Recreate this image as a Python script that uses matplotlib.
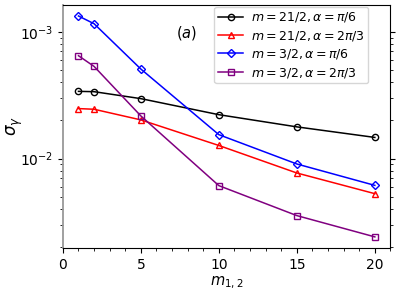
import matplotlib
matplotlib.use("Agg")
import matplotlib.pyplot as plt
from matplotlib.ticker import MultipleLocator, NullFormatter

# data (x = m_{1,2})
m_vals = [1, 2, 5, 10, 15, 20]
sig_21_pi6 = [3.39e-3, 3.37e-3, 2.97e-3, 2.22e-3, 1.78e-3, 1.47e-3]
sig_21_2pi3 = [2.48e-3, 2.45e-3, 2.02e-3, 1.27e-3, 7.71e-4, 5.30e-4]
sig_3_pi6 = [1.33e-2, 1.156e-2, 5.08e-3, 1.545e-3, 9.08e-4, 6.16e-4]
sig_3_2pi3 = [6.47e-3, 5.33e-3, 2.17e-3, 6.13e-4, 3.56e-4, 2.42e-4]

labels = [r"$m=21/2, \alpha=\pi/6$", r"$m=21/2, \alpha=2\pi/3$",
          r"$m=3/2, \alpha=\pi/6$", r"$m=3/2, \alpha=2\pi/3$"]
ytick_vals = [1e-2, 1e-3]
ytick_text = [r"$10^{-3}$", r"$10^{-2}$"]

fig = plt.figure(figsize=(3.98, 2.91), dpi=100)
ax = fig.add_axes([0.158, 0.148, 0.823, 0.835])

ax.plot(m_vals, sig_21_pi6, color="black", marker="o", mfc="none", ms=4.5, lw=1.1, label=labels[0])
ax.plot(m_vals, sig_21_2pi3, color="red", marker="^", mfc="none", ms=4.5, lw=1.1, label=labels[1])
ax.plot(m_vals, sig_3_pi6, color="blue", marker="D", mfc="none", ms=4.5, lw=1.1, label=labels[2])
ax.plot(m_vals, sig_3_2pi3, color="purple", marker="s", mfc="none", ms=4.5, lw=1.1, label=labels[3])

ax.set_yscale("log")
ax.set_xlim(0, 21)
ax.set_xticks([0, 5, 10, 15, 20])
ax.xaxis.set_minor_locator(MultipleLocator(1))
ax.set_yticks(ytick_vals, ytick_text)
ax.yaxis.set_minor_formatter(NullFormatter())
ax.tick_params(axis="both", labelsize=10)
ax.tick_params(axis="y", which="both", right=True)
ax.spines["left"].set_color("#999999")
ax.spines["left"].set_linewidth(1.3)

ax.set_xlabel(r"$m_{1,2}$", fontsize=10.5, labelpad=2)
ax.set_ylabel(r"$\sigma_\gamma$", fontsize=12)
ax.yaxis.set_label_coords(-0.115, 0.5)
ax.text(0.376, 0.885, r"$(a)$", transform=ax.transAxes, fontsize=10.5, ha="center", va="center")

ax.legend(loc="upper right", bbox_to_anchor=(0.932, 0.993), fontsize=9,
          handlelength=2.0, borderaxespad=0, borderpad=0.3, labelspacing=0.35,
          handletextpad=0.6)

fig.savefig("out.png", dpi=100)
